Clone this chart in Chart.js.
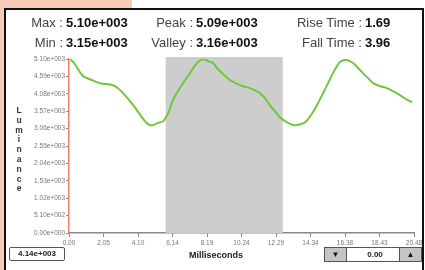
<!DOCTYPE html>
<html>
<head>
<meta charset="utf-8">
<script src="https://cdn.jsdelivr.net/npm/chart.js@4"></script>
<style>
  html, body { margin: 0; padding: 0; background: #fff; }
  body { width: 425px; height: 270px; position: relative; overflow: hidden; font-family: "Liberation Sans", Arial, sans-serif; }
  #pink { position: absolute; left: 0; top: 0; width: 132px; height: 8px; background: #f7cbb8; }
  #pinkLeft { position: absolute; left: 0; top: 0; width: 4px; height: 270px; background: #f7cbb8; }
  #frame { position: absolute; left: 4px; top: 8px; width: 420px; height: 275px; border: 2px solid #111; box-sizing: border-box; }
  #chartBox { position: absolute; left: 0; top: 0; width: 425px; height: 270px; }
  .lbl { position: absolute; width: 150px; text-align: right; font-size: 13px; color: #444; line-height: 14px; }
  .val { position: absolute; font-size: 13px; font-weight: bold; color: #111; line-height: 14px; }
  #yTitle { position: absolute; left: 13px; top: 106px; width: 12px; text-align: center; font-size: 8.5px; font-weight: bold; color: #333; line-height: 9.8px; }
  #xTitle { position: absolute; left: 176px; top: 250px; width: 80px; text-align: center; font-size: 9px; font-weight: bold; color: #222; }
  #readout { position: absolute; left: 9px; top: 247px; width: 56px; height: 14px; border: 1px solid #555; border-radius: 2px; box-sizing: border-box; font-size: 8px; font-weight: bold; text-align: center; line-height: 12px; color: #222; }
  #spin { position: absolute; left: 324px; top: 247px; width: 98px; height: 15px; border: 1px solid #555; box-sizing: border-box; background: #fff; }
  #spin .btn { position: absolute; top: 0; width: 21px; height: 13px; background: #c4c4c4; font-size: 8px; text-align: center; line-height: 13px; color: #111; }
  #spin .num { position: absolute; left: 22px; width: 56px; top: 0; text-align: center; font-size: 8px; font-weight: bold; line-height: 13px; color: #222; }
</style>
</head>
<body>
<div id="pink"></div>
<div id="pinkLeft"></div>
<div id="frame"></div>
<div id="chartBox"><canvas id="lumChart" width="425" height="270"></canvas></div>
<div id="stats"></div>
<div id="yTitle"></div>
<div id="xTitle">Milliseconds</div>
<div id="readout">4.14e+003</div>
<div id="spin">
  <div class="btn" style="left:0;border-right:1px solid #555;">&#9660;</div>
  <div class="num">0.00</div>
  <div class="btn" style="right:0;border-left:1px solid #555;">&#9650;</div>
</div>
<script>
// Données
const timeMs = [0.06, 0.30, 0.83, 1.37, 1.84, 2.61, 2.91, 3.21, 3.62, 4.04, 4.33, 4.63, 4.93, 5.22, 5.58, 5.88, 6.17, 6.47, 6.77, 7.18, 7.60, 7.96, 8.25, 8.55, 8.79, 8.96, 9.56, 10.15, 10.74, 11.34, 11.63, 11.93, 12.23, 12.52, 12.94, 13.41, 14.01, 14.48, 14.78, 15.08, 15.38, 15.67, 15.91, 16.09, 16.33, 16.50, 16.86, 17.16, 17.45, 17.75, 18.05, 18.46, 18.88, 19.23, 19.65, 20.00, 20.36];
const luminance = [5100, 4982, 4599, 4481, 4392, 4333, 4245, 4098, 3862, 3597, 3390, 3213, 3150, 3213, 3272, 3508, 3891, 4157, 4392, 4687, 4982, 5090, 5041, 4982, 4835, 4746, 4481, 4334, 4245, 4098, 3950, 3744, 3567, 3390, 3243, 3160, 3243, 3538, 3803, 4098, 4392, 4687, 4894, 5012, 5070, 5070, 4982, 4835, 4687, 4540, 4392, 4304, 4245, 4157, 4039, 3921, 3832];
const xTickLabels = ['0.00', '2.05', '4.10', '6.14', '8.19', '10.24', '12.29', '14.34', '16.38', '18.43', '20.48'];
const yTickLabels = ['0.00e+000', '5.10e+002', '1.02e+003', '1.53e+003', '2.04e+003', '2.55e+003', '3.06e+003', '3.57e+003', '4.08e+003', '4.59e+003', '5.10e+003'];
const bandRange = [5.74, 12.69];
const statLabels = ['Max :', 'Peak :', 'Rise Time :', 'Min :', 'Valley :', 'Fall Time :'];
const statValues = ['5.10e+003', '5.09e+003', '1.69', '3.15e+003', '3.16e+003', '3.96'];
const yTitle = 'Luminance';

// En-tête des statistiques
function buildStats() {
  const box = document.getElementById('stats');
  const labelRight = [63, 193, 362];
  const rowTop = [16, 36];
  statLabels.forEach((label, i) => {
    const col = i % 3, row = Math.floor(i / 3);
    const l = document.createElement('div');
    l.className = 'lbl';
    l.style.left = (labelRight[col] - 150) + 'px';
    l.style.top = rowTop[row] + 'px';
    l.textContent = label;
    box.appendChild(l);
    const v = document.createElement('div');
    v.className = 'val';
    v.style.left = (labelRight[col] + 3) + 'px';
    v.style.top = rowTop[row] + 'px';
    v.textContent = statValues[i];
    box.appendChild(v);
  });
  document.getElementById('yTitle').innerHTML = yTitle.split('').join('<br>');
}

// Bande grise de sélection
const bandPlugin = {
  id: 'band',
  beforeDatasetsDraw(chart) {
    const { ctx, chartArea, scales } = chart;
    const x0 = scales.x.getPixelForValue(bandRange[0]);
    const x1 = scales.x.getPixelForValue(bandRange[1]);
    ctx.save();
    ctx.fillStyle = '#cdcdcd';
    ctx.fillRect(x0, chartArea.top - 2, x1 - x0, chartArea.bottom - chartArea.top + 2);
    ctx.restore();
  }
};

function displayChart() {
  const ctx = document.getElementById('lumChart').getContext('2d');
  const tickFont = { family: '"Liberation Sans Narrow", "Liberation Sans", sans-serif', size: 6.5 };
  new Chart(ctx, {
    type: 'line',
    data: {
      datasets: [{
        data: timeMs.map((t, i) => ({ x: t, y: luminance[i] })),
        borderColor: '#72c63c',
        borderWidth: 2,
        pointRadius: 0,
        tension: 0.25,
        fill: false
      }]
    },
    options: {
      responsive: false,
      animation: false,
      layout: { padding: { left: 0, top: 59, right: 11, bottom: 17 } },
      plugins: { legend: { display: false }, tooltip: { enabled: false } },
      scales: {
        x: {
          type: 'linear',
          min: 0,
          max: 20.48,
          afterBuildTicks: scale => { scale.ticks = xTickLabels.map((t, i) => ({ value: i * 2.048 })); },
          afterFit: scale => { scale.height = 20; },
          ticks: {
            autoSkip: false,
            maxRotation: 0,
            padding: 2,
            color: '#777',
            font: tickFont,
            callback: (v, i) => xTickLabels[i]
          },
          grid: { drawOnChartArea: false, drawTicks: true, tickLength: 4, color: '#888' },
          border: { color: '#888', width: 1.5 }
        },
        y: {
          min: 0,
          max: 5100,
          afterBuildTicks: scale => { scale.ticks = yTickLabels.map((t, i) => ({ value: i * 510 })); },
          afterFit: scale => { scale.width = 69; },
          ticks: {
            autoSkip: false,
            padding: 1,
            color: '#777',
            font: tickFont,
            callback: (v, i) => yTickLabels[i]
          },
          grid: { drawOnChartArea: false, drawTicks: true, tickLength: 3, color: '#888' },
          border: { color: '#e8806e', width: 1.5 }
        }
      }
    },
    plugins: [bandPlugin]
  });
}

buildStats();
displayChart();
</script>
</body>
</html>
